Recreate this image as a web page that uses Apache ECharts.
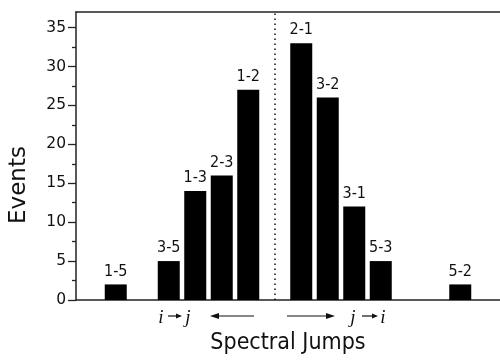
<!DOCTYPE html>
<html>
<head>
<meta charset="utf-8">
<script src="https://cdn.jsdelivr.net/npm/echarts@6/dist/echarts.min.js"></script>
<style>html,body{margin:0;padding:0;background:#fff;}#c{width:500px;height:360px;}</style>
</head>
<body>
<div id="c"></div>
<script>
// slot categories along the jump axis ('' = empty slot)
var categories = ['', '1-5', '', '3-5', '1-3', '2-3', '1-2', '', '2-1', '3-2', '3-1', '5-3', '', '', '5-2', ''];
var events     = [null, 2, null, 5, 14, 16, 27, null, 33, 26, 12, 5, null, null, 2, null];
var majorTicks = [0, 5, 10, 15, 20, 25, 30, 35];
var minorTicks = [2.5, 7.5, 12.5, 17.5, 22.5, 27.5, 32.5];
var dividerIndex = 7;
var yMax = 37;

var axisColor = '#222';
var chart = echarts.init(document.getElementById('c'), null, {renderer: 'canvas'});

function arrow(x1, x2, y, headLeft, headLen, headHalf) {
  var tip = headLeft ? x1 : x2;
  var base = headLeft ? x1 + headLen : x2 - headLen;
  return [
    {type: 'line', shape: {x1: headLeft ? base : x1, y1: y, x2: headLeft ? x2 : base, y2: y},
     style: {stroke: '#111', lineWidth: 1.2}},
    {type: 'polygon', shape: {points: [[tip, y], [base, y - headHalf], [base, y + headHalf]]},
     style: {fill: '#111'}}
  ];
}

var italic = {fontFamily: 'Liberation Serif', fontStyle: 'italic', fontSize: 19, fill: '#111'};
function txt(s, x, y) {
  return {type: 'text', x: x, y: y, style: Object.assign({text: s, textAlign: 'center', textVerticalAlign: 'middle'}, italic)};
}

var graphics = [
  {type: 'text', x: 19, y: 185, rotation: Math.PI / 2,
   style: {text: 'Events', fontFamily: 'DejaVu Sans', fontSize: 23, fill: '#111', textAlign: 'center', textVerticalAlign: 'middle'}},
  txt('i', 161, 318), txt('j', 188, 318),
  txt('j', 353, 318), txt('i', 383, 318)
].concat(arrow(168, 182, 316, false, 6, 2.5))
 .concat(arrow(362, 378, 316, false, 6, 2.5))
 .concat(arrow(210, 254, 316, true, 9, 3))
 .concat(arrow(287, 335, 316, false, 9, 3));

var option = {
  animation: false,
  grid: {left: 76, right: 0, top: 12, bottom: 56, containLabel: false},
  xAxis: [{
    type: 'category', data: categories, boundaryGap: true,
    axisLine: {show: true, onZero: false, lineStyle: {color: axisColor, width: 1.5}},
    axisTick: {show: false}, axisLabel: {show: false}, splitLine: {show: false},
    name: 'Spectral Jumps', nameLocation: 'middle', nameGap: 32,
    nameTextStyle: {fontFamily: 'DejaVu Sans Condensed', fontSize: 23, color: '#111'}
  }, {
    type: 'category', data: categories, position: 'top',
    axisLine: {show: true, onZero: false, lineStyle: {color: axisColor, width: 1.5}},
    axisTick: {show: false}, axisLabel: {show: false}, splitLine: {show: false}
  }],
  yAxis: [{
    type: 'value', min: 0, max: yMax, interval: 5,
    axisLine: {show: true, onZero: false, lineStyle: {color: axisColor, width: 1.5}},
    axisTick: {show: true, inside: false, length: 8, customValues: majorTicks, lineStyle: {color: axisColor, width: 1.3}},
    axisLabel: {customValues: majorTicks, margin: 10, fontFamily: 'DejaVu Sans', fontSize: 15.5, color: '#111'},
    splitLine: {show: false}
  }, {
    type: 'value', min: 0, max: yMax, position: 'left',
    axisLine: {show: false},
    axisTick: {show: true, inside: false, length: 4, customValues: minorTicks, lineStyle: {color: axisColor, width: 1.3}},
    axisLabel: {show: false}, splitLine: {show: false}
  }],
  series: [{
    type: 'bar', data: events, barWidth: 22, xAxisIndex: 0, yAxisIndex: 0,
    itemStyle: {color: '#000'},
    label: {show: true, position: 'top', distance: 5, formatter: '{b}',
      fontFamily: 'DejaVu Sans Condensed', fontSize: 16, color: '#111'},
    markLine: {
      silent: true, symbol: ['none', 'none'], label: {show: false},
      lineStyle: {color: '#111', type: [1.5, 3.5], width: 1.5},
      data: [{xAxis: dividerIndex}]
    }
  }],
  graphic: graphics
};
chart.setOption(option);
</script>
</body>
</html>
